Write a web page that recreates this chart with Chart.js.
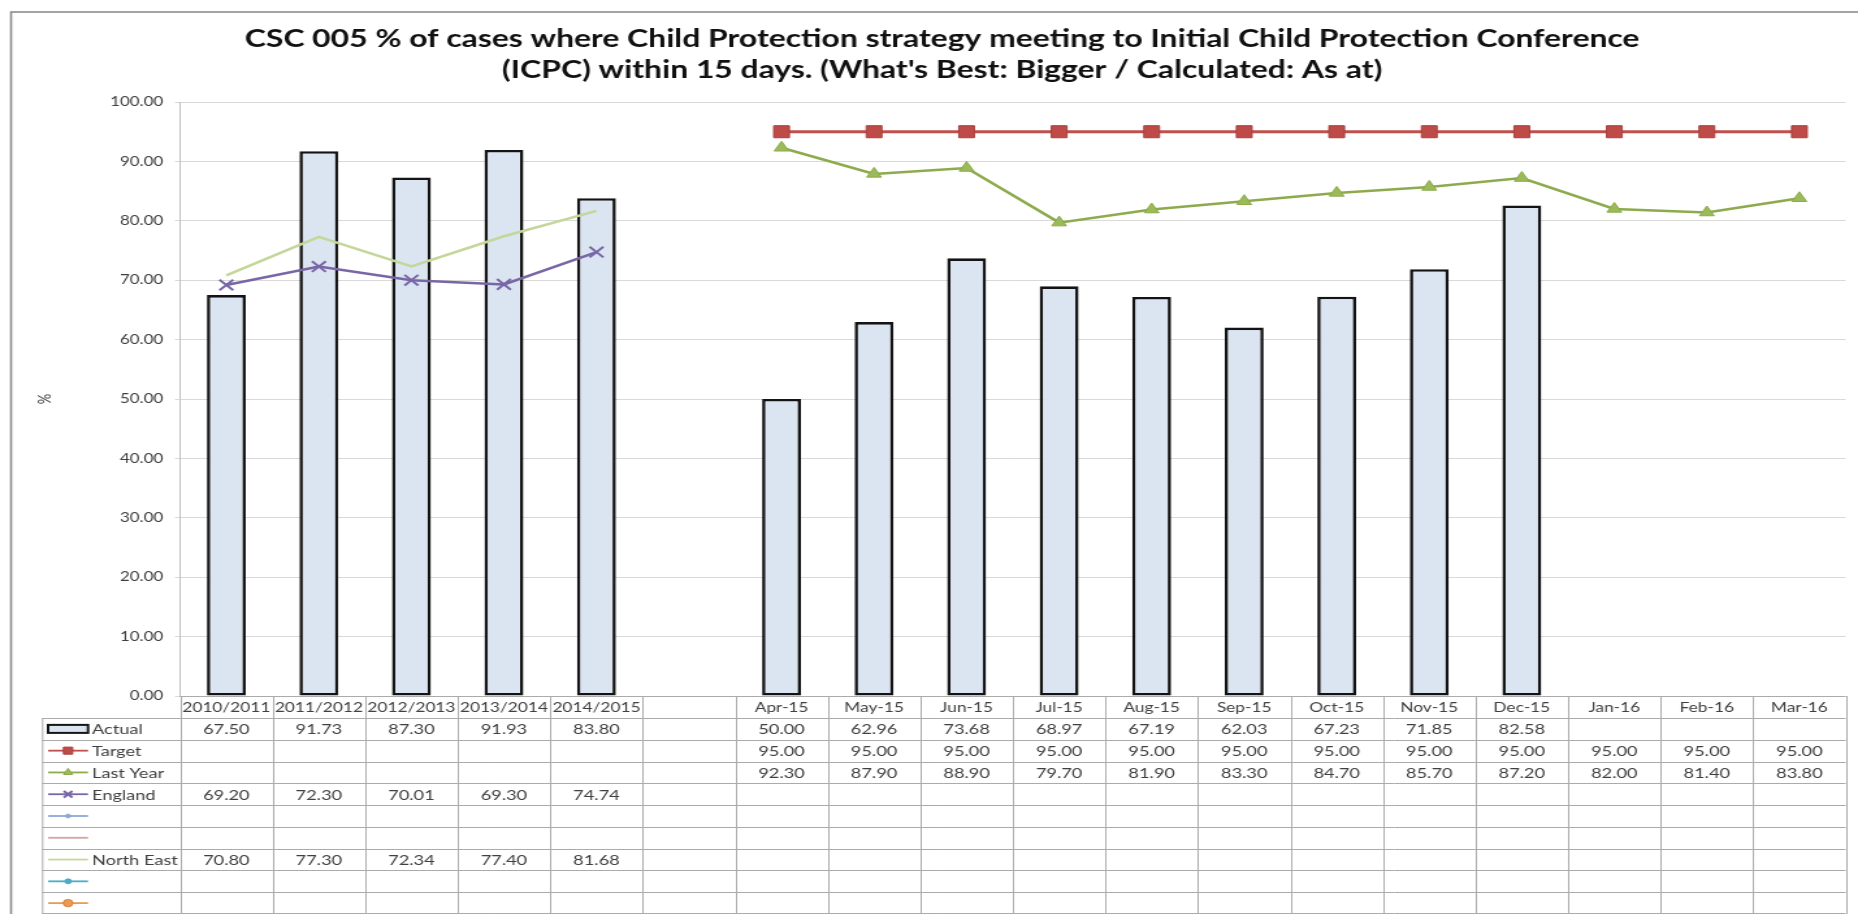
<!DOCTYPE html>
<html>
<head>
<meta charset="utf-8">
<script src="https://cdn.jsdelivr.net/npm/chart.js@4.4.1/dist/chart.umd.min.js"></script>
<style>
  html, body { margin: 0; padding: 0; background: #fff; overflow: hidden; }
  /* the sheet is drawn narrow and widened, like the exported workbook picture */
  #frame { width: 1429px; height: 914px; transform: scaleX(1.30021); transform-origin: 0 0; }
  canvas { display: block; }
</style>
</head>
<body>
<div id="frame"><canvas id="chart" width="1429" height="914"></canvas></div>
<script>
// ---- data ----
const titleLines = [
  'CSC 005 % of cases where Child Protection strategy meeting to Initial Child Protection Conference',
  "(ICPC) within 15 days. (What's Best: Bigger / Calculated: As at)"
];
const categories = ['2010/2011', '2011/2012', '2012/2013', '2013/2014', '2014/2015', '',
  'Apr-15', 'May-15', 'Jun-15', 'Jul-15', 'Aug-15', 'Sep-15', 'Oct-15', 'Nov-15', 'Dec-15',
  'Jan-16', 'Feb-16', 'Mar-16'];
const actual = [67.50, 91.73, 87.30, 91.93, 83.80, null,
  50.00, 62.96, 73.68, 68.97, 67.19, 62.03, 67.23, 71.85, 82.58, null, null, null];
const target = [null, null, null, null, null, null,
  95.00, 95.00, 95.00, 95.00, 95.00, 95.00, 95.00, 95.00, 95.00, 95.00, 95.00, 95.00];
const lastYear = [null, null, null, null, null, null,
  92.30, 87.90, 88.90, 79.70, 81.90, 83.30, 84.70, 85.70, 87.20, 82.00, 81.40, 83.80];
const england = [69.20, 72.30, 70.01, 69.30, 74.74, null,
  null, null, null, null, null, null, null, null, null, null, null, null];
const northEast = [70.80, 77.30, 72.34, 77.40, 81.68, null,
  null, null, null, null, null, null, null, null, null, null, null, null];
const emptySeries = categories.map(() => null);
const yMin = 0, yMax = 100, yStep = 10;
const yAxisTitle = '%';

const FONT = 'Lato';
const TEXT = '#404040';
const LINE = '#ababab';

// white page and the grey chart frame
const framePlugin = {
  id: 'frame',
  beforeDraw(chart) {
    const { ctx, width, height } = chart;
    ctx.save();
    ctx.fillStyle = '#fff';
    ctx.fillRect(0, 0, width, height);
    ctx.strokeStyle = '#8c8c8c';
    ctx.lineWidth = 1.6;
    ctx.strokeRect(8.5, 12, width + 20, height + 20);
    ctx.restore();
  }
};

// data table under the plot: category row, legend keys and values
const tablePlugin = {
  id: 'dataTable',
  afterDraw(chart) {
    const { ctx, chartArea, scales } = chart;
    const xs = scales.x;
    const n = chart.data.labels.length;
    const sets = chart.data.datasets;
    const top = chartArea.bottom;
    const headerH = 22;
    const bodyTop = top + headerH;
    const rowH = (chart.height - bodyTop) / sets.length;
    const tableLeft = 32.3;
    const keyL = 37, keyR = 67.7, textX = 70.8;

    const edges = [chartArea.left];
    for (let i = 1; i < n; i++) {
      edges.push((xs.getPixelForValue(i - 1) + xs.getPixelForValue(i)) / 2);
    }
    edges.push(chartArea.right);

    ctx.save();
    ctx.strokeStyle = LINE;
    ctx.lineWidth = 1;
    // horizontal rules
    ctx.beginPath();
    ctx.moveTo(chartArea.left, top + 0.5);
    ctx.lineTo(chartArea.right, top + 0.5);
    for (let r = 0; r < sets.length; r++) {
      const y = Math.round(bodyTop + r * rowH) + 0.5;
      ctx.moveTo(tableLeft, y);
      ctx.lineTo(chartArea.right, y);
    }
    ctx.moveTo(tableLeft, chart.height - 0.5);
    ctx.lineTo(chartArea.right, chart.height - 0.5);
    // vertical rules
    edges.forEach(x => {
      ctx.moveTo(Math.round(x) + 0.5, top);
      ctx.lineTo(Math.round(x) + 0.5, chart.height);
    });
    ctx.moveTo(tableLeft + 0.5, bodyTop);
    ctx.lineTo(tableLeft + 0.5, chart.height);
    ctx.stroke();

    // category labels
    ctx.fillStyle = TEXT;
    ctx.font = `13.3px ${FONT}`;
    ctx.textAlign = 'center';
    ctx.textBaseline = 'middle';
    chart.data.labels.forEach((lab, i) => {
      ctx.fillText(lab, xs.getPixelForValue(i), top + headerH / 2 + 1);
    });

    // rows
    const drawPoint = Chart.helpers && Chart.helpers.drawPoint;
    sets.forEach((ds, r) => {
      const cy = bodyTop + r * rowH + rowH / 2;
      ctx.save();
      if (ds.type === 'bar') {
        ctx.fillStyle = ds.backgroundColor;
        ctx.fillRect(keyL, cy - 4, keyR - keyL, 8);
        ctx.strokeStyle = ds.borderColor;
        ctx.lineWidth = 2;
        ctx.strokeRect(keyL, cy - 4, keyR - keyL, 8);
      } else {
        ctx.strokeStyle = ds.borderColor;
        ctx.lineWidth = 1.8;
        ctx.beginPath();
        ctx.moveTo(keyL, cy);
        ctx.lineTo(keyR, cy);
        ctx.stroke();
        if (ds.pointRadius > 0 && drawPoint) {
          ctx.fillStyle = ds.backgroundColor || ds.borderColor;
          ctx.strokeStyle = ds.pointBorderColor || ds.borderColor;
          ctx.lineWidth = ds.pointBorderWidth || 1;
          drawPoint(ctx, {
            pointStyle: ds.pointStyle,
            radius: Math.min(ds.pointRadius * 0.62, 5),
            borderWidth: ds.pointBorderWidth || 1,
            rotation: 0
          }, (keyL + keyR) / 2, cy);
        }
      }
      ctx.restore();

      ctx.fillStyle = TEXT;
      ctx.font = `14px ${FONT}`;
      ctx.textBaseline = 'middle';
      if (ds.label) {
        ctx.textAlign = 'left';
        ctx.fillText(ds.label, textX, cy + 1);
      }
      ctx.textAlign = 'center';
      ds.data.forEach((v, i) => {
        if (v === null || v === undefined) return;
        ctx.fillText(v.toFixed(2), xs.getPixelForValue(i), cy + 1);
      });
    });
    ctx.restore();
  }
};

const lineBase = { type: 'line', fill: false, tension: 0, spanGaps: false, order: 1 };

new Chart(document.getElementById('chart'), {
  type: 'bar',
  data: {
    labels: categories,
    datasets: [
      { type: 'bar', label: 'Actual', data: actual, backgroundColor: '#dbe5f1', borderColor: '#141414',
        borderWidth: 2.6, borderSkipped: false, barPercentage: 0.42, categoryPercentage: 1, order: 2 },
      { ...lineBase, label: 'Target', data: target, borderColor: '#c0504d', backgroundColor: '#be4b48',
        borderWidth: 3, pointStyle: 'rect', pointRadius: 8.5, pointBorderColor: '#a8403d', pointBorderWidth: 1 },
      { ...lineBase, label: 'Last Year', data: lastYear, borderColor: '#8dab4c', backgroundColor: '#9bbb59',
        borderWidth: 2.5, pointStyle: 'triangle', pointRadius: 6.5, pointBorderColor: '#8dab4c', pointBorderWidth: 1 },
      { ...lineBase, label: 'England', data: england, borderColor: '#7966a6', backgroundColor: '#7966a6',
        borderWidth: 2.5, pointStyle: 'crossRot', pointRadius: 7.5, pointBorderColor: '#7966a6', pointBorderWidth: 2 },
      { ...lineBase, label: '', data: emptySeries, borderColor: '#8ea9d6', backgroundColor: '#8ea9d6',
        borderWidth: 2, pointStyle: 'circle', pointRadius: 3, pointBorderColor: '#8ea9d6', pointBorderWidth: 1 },
      { ...lineBase, label: '', data: emptySeries, borderColor: '#d4a2a0', backgroundColor: '#d4a2a0',
        borderWidth: 2, pointRadius: 0 },
      { ...lineBase, label: 'North East', data: northEast, borderColor: '#c4d79b', backgroundColor: '#c4d79b',
        borderWidth: 2.5, pointRadius: 0 },
      { ...lineBase, label: '', data: emptySeries, borderColor: '#4bacc6', backgroundColor: '#4bacc6',
        borderWidth: 2, pointStyle: 'circle', pointRadius: 4, pointBorderColor: '#4bacc6', pointBorderWidth: 1 },
      { ...lineBase, label: '', data: emptySeries, borderColor: '#e99a55', backgroundColor: '#e99a55',
        borderWidth: 2, pointStyle: 'circle', pointRadius: 6, pointBorderColor: '#d9843b', pointBorderWidth: 1 }
    ]
  },
  options: {
    responsive: false,
    animation: false,
    devicePixelRatio: 1,
    layout: { padding: { left: 24.6, right: 4.4, top: 0, bottom: 218 } },
    plugins: {
      legend: { display: false },
      tooltip: { enabled: false },
      title: {
        display: true,
        text: titleLines,
        color: '#111',
        font: { family: FONT, size: 24.5, weight: 'bold', lineHeight: 1.27 },
        padding: { top: 23.5, bottom: 16.3 }
      }
    },
    scales: {
      x: { display: false, offset: true },
      y: {
        min: yMin, max: yMax,
        ticks: { stepSize: yStep, padding: 9, color: TEXT, font: { family: FONT, size: 13 },
                 callback: v => Number(v).toFixed(2) },
        grid: { color: '#d9d9d9', lineWidth: 1, tickLength: 4 },
        border: { color: '#bdbdbd', width: 1 },
        title: { display: true, text: yAxisTitle, color: TEXT, font: { family: FONT, size: 13 },
                 padding: { top: 2, bottom: 0 } },
        afterFit(scale) { scale.width = 113.9; }
      }
    }
  },
  plugins: [framePlugin, tablePlugin]
});
</script>
</body>
</html>
